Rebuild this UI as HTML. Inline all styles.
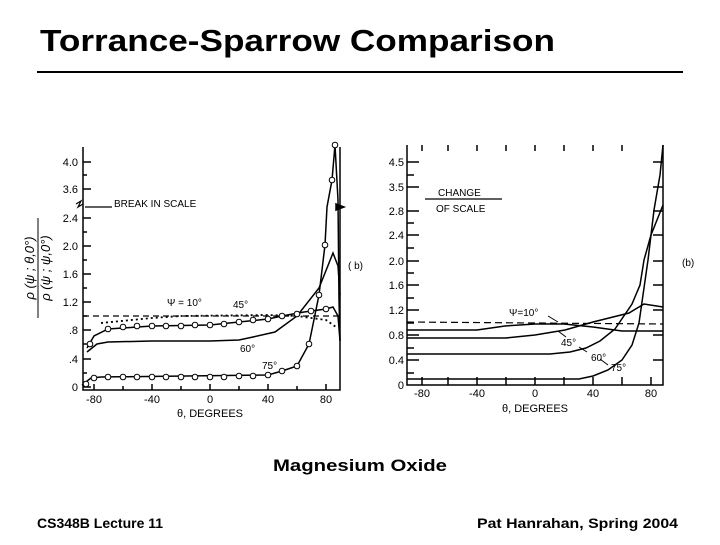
<!DOCTYPE html>
<html><head><style>
body{margin:0;width:720px;height:540px;background:#fff;overflow:hidden;font-family:"Liberation Sans",sans-serif}
</style></head><body>
<svg width="720" height="540" viewBox="0 0 720 540" xmlns="http://www.w3.org/2000/svg" font-family="Liberation Sans, sans-serif">
<text x="40" y="51" font-size="31" font-weight="bold" textLength="515" lengthAdjust="spacingAndGlyphs">Torrance-Sparrow Comparison</text>
<line x1="37" y1="72" x2="683" y2="72" stroke="#000" stroke-width="2"/>
<text x="273" y="471" font-size="17" font-weight="bold" textLength="174" lengthAdjust="spacingAndGlyphs">Magnesium Oxide</text>
<text x="37" y="528" font-size="14" font-weight="bold">CS348B Lecture 11</text>
<text x="477" y="528" font-size="14" font-weight="bold" textLength="201" lengthAdjust="spacingAndGlyphs">Pat Hanrahan, Spring 2004</text>

<!-- LEFT PLOT -->
<g stroke="#000" fill="none" stroke-width="1.5">
<path d="M83,147 V390 H340 V147"/>
<path d="M83,162h8M83,189h8M83,218h8M83,246h8M83,274h8M83,302h8M83,330h8M83,359h8M83,387h8M83,175h4M83,232h4M83,260h4M83,288h4M83,316h4M83,344h4M83,373h4"/>
<path d="M94,390v-6M152,390v-6M210,390v-6M268,390v-6M326,390v-6M123,390v-4M181,390v-4M239,390v-4M297,390v-4"/>
<path d="M76,204l5,-3l-3,6l5,-3 M85,207H112" stroke-width="1.2"/>
<path d="M336,204l8,3l-8,3z" fill="#000"/>
<line x1="83" y1="316" x2="340" y2="316" stroke-dasharray="6,4" stroke-width="1.2"/>
<polyline points="101,323 152,318 181,316 268,315 297,316 326,320 336,327" stroke-dasharray="2,3" stroke-width="1.8"/>
<polyline points="87,348 94,336 108,329 152,326 210,325 239,322 268,319 282,316 304,312 326,309 333,307 338,316 340,341"/>
<polyline points="87,352 97,344 108,342 152,341 210,341 239,340 253,337 275,332 297,316 319,288 333,253 338,266 340,295"/>
<polyline points="82,385 91,378 101,377 268,375 282,371 297,366 309,344 319,295 325,245 327,207 332,180 335,145 338,200 339,300 340,340"/>
</g>
<g stroke="#000" fill="#fff" stroke-width="1">
<circle cx="90" cy="344" r="2.8"/><circle cx="108" cy="329" r="2.8"/><circle cx="123" cy="327" r="2.8"/><circle cx="137" cy="326" r="2.8"/><circle cx="152" cy="326" r="2.8"/><circle cx="166" cy="326" r="2.8"/><circle cx="181" cy="326" r="2.8"/><circle cx="195" cy="325" r="2.8"/><circle cx="210" cy="325" r="2.8"/><circle cx="224" cy="324" r="2.8"/><circle cx="239" cy="322" r="2.8"/><circle cx="253" cy="320" r="2.8"/><circle cx="268" cy="319" r="2.8"/><circle cx="282" cy="316" r="2.8"/><circle cx="297" cy="314" r="2.8"/><circle cx="311" cy="311" r="2.8"/><circle cx="326" cy="309" r="2.8"/>
<circle cx="86" cy="384" r="2.8"/><circle cx="94" cy="378" r="2.8"/><circle cx="108" cy="377" r="2.8"/><circle cx="123" cy="377" r="2.8"/><circle cx="137" cy="377" r="2.8"/><circle cx="152" cy="377" r="2.8"/><circle cx="166" cy="377" r="2.8"/><circle cx="181" cy="377" r="2.8"/><circle cx="195" cy="377" r="2.8"/><circle cx="210" cy="377" r="2.8"/><circle cx="224" cy="377" r="2.8"/><circle cx="239" cy="376" r="2.8"/><circle cx="253" cy="376" r="2.8"/><circle cx="268" cy="375" r="2.8"/><circle cx="282" cy="371" r="2.8"/><circle cx="297" cy="366" r="2.8"/><circle cx="309" cy="344" r="2.8"/><circle cx="319" cy="295" r="2.8"/><circle cx="325" cy="245" r="2.8"/><circle cx="332" cy="180" r="2.8"/><circle cx="335" cy="145" r="2.8"/>
</g>
<g font-size="11" text-anchor="end">
<text x="78" y="166">4.0</text><text x="78" y="193">3.6</text><text x="78" y="222">2.4</text><text x="78" y="250">2.0</text><text x="78" y="278">1.6</text><text x="78" y="306">1.2</text><text x="78" y="334">.8</text><text x="78" y="363">.4</text><text x="78" y="391">0</text>
</g>
<g font-size="11" text-anchor="middle">
<text x="94" y="403">-80</text><text x="152" y="403">-40</text><text x="210" y="403">0</text><text x="268" y="403">40</text><text x="326" y="403">80</text>
<text x="210" y="417">θ, DEGREES</text>
</g>
<g font-size="10">
<text x="114" y="207">BREAK IN SCALE</text>
<text x="167" y="306">Ψ = 10°</text><text x="233" y="308">45°</text><text x="240" y="352">60°</text><text x="262" y="369">75°</text>
<text x="348" y="269">( b)</text>
</g>
<g transform="translate(37,268) rotate(-90)" font-size="13" font-style="italic" text-anchor="middle">
<text y="-3">ρ (ψ ; θ,0°)</text><line x1="-50" y1="1" x2="50" y2="1" stroke="#000"/><text y="13">ρ (ψ ; ψ,0°)</text>
</g>

<!-- RIGHT PLOT -->
<g stroke="#000" fill="none" stroke-width="1.5">
<path d="M407,145 V385 H663 V145"/>
<path d="M407,162h12M407,187h12M407,211h12M407,235h12M407,261h12M407,285h12M407,310h12M407,335h12M407,360h12M407,175h7M407,223h7M407,248h7M407,273h7M407,298h7M407,323h7M407,348h7M407,373h7"/>
<path d="M663,162h-10M663,187h-10M663,211h-10M663,235h-10M663,261h-10M663,285h-10M663,310h-10M663,335h-10M663,360h-10"/>
<path d="M422,385v-8M448,385v-8M477,385v-8M506,385v-8M535,385v-8M564,385v-8M593,385v-8M622,385v-8M651,385v-8"/>
<path d="M422,145v6M448,145v6M477,145v6M506,145v6M535,145v6M564,145v6M593,145v6M622,145v6"/>
<path d="M425,199H502" stroke-width="1.2"/>
<line x1="407" y1="322" x2="663" y2="324" stroke-dasharray="7,4" stroke-width="1.2"/>
<polyline points="407,330 477,330 505,326 535,324 564,324 593,327 622,331 663,331"/>
<polyline points="407,338 506,338 535,335 565,330 593,322 629,313 644,304 663,307"/>
<polyline points="407,354 550,354 570,352 586,348 600,341 615,329 632,304 640,285 644,260 651,235 663,205"/>
<polyline points="407,379 579,379 593,376 608,370 622,360 632,345 639,323 648,260 654,210 660,175 663,145"/>
<path d="M548,316l10,6M566,337l-8,-6M587,352l-8,-5M608,365l-8,-6" stroke-width="1"/>
</g>
<g font-size="11" text-anchor="end">
<text x="404" y="166">4.5</text><text x="404" y="191">3.5</text><text x="404" y="215">2.8</text><text x="404" y="239">2.4</text><text x="404" y="265">2.0</text><text x="404" y="289">1.6</text><text x="404" y="314">1.2</text><text x="404" y="339">0.8</text><text x="404" y="364">0.4</text><text x="404" y="389">0</text>
</g>
<g font-size="11" text-anchor="middle">
<text x="422" y="397">-80</text><text x="477" y="397">-40</text><text x="535" y="397">0</text><text x="593" y="397">40</text><text x="651" y="397">80</text>
<text x="535" y="412">θ, DEGREES</text>
</g>
<g font-size="10">
<text x="438" y="196">CHANGE</text><text x="436" y="212">OF SCALE</text>
<text x="509" y="316">Ψ=10°</text><text x="561" y="346">45°</text><text x="591" y="361">60°</text><text x="611" y="371">75°</text>
<text x="682" y="266">(b)</text>
</g>
</svg>
</body></html>
